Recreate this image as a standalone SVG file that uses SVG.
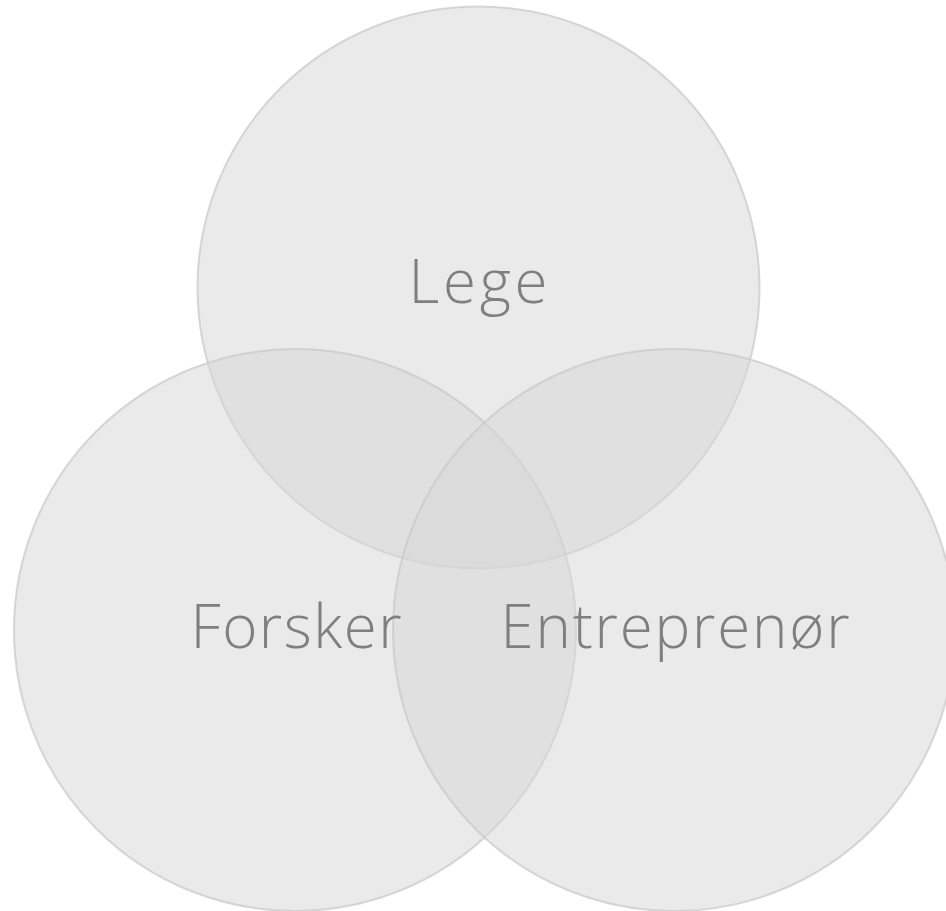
<svg xmlns="http://www.w3.org/2000/svg" width="946" height="911" viewBox="0 0 946 911">
<style>
.c{fill:#d7d7d7;fill-opacity:0.52;stroke:#c8c8c8;stroke-opacity:0.7;stroke-width:2}
.t{font-family:"Open Sans",Lato,"Liberation Sans",sans-serif;font-size:60px;font-weight:300;fill:#7f7f7f;text-anchor:middle}
</style>
<rect width="946" height="911" fill="#ffffff"/>
<g id="lege"><circle class="c" cx="478.5" cy="287.5" r="281"/></g>
<g id="forsker"><circle class="c" cx="295" cy="630" r="281"/></g>
<g id="entreprenor"><circle class="c" cx="674" cy="630" r="281"/></g>
<g id="labels">
<text class="t" x="478" y="303" textLength="139" lengthAdjust="spacing">Lege</text>
<text class="t" x="296" y="648" textLength="211" lengthAdjust="spacing">Forsker</text>
<text class="t" x="675" y="648" textLength="349" lengthAdjust="spacing">Entreprenør</text>
</g>
<g id="connectors"/>
</svg>
